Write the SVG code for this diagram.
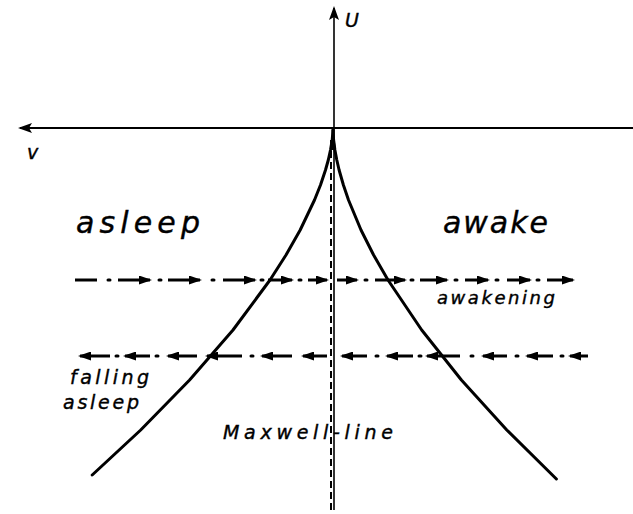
<svg xmlns="http://www.w3.org/2000/svg" width="633" height="514" viewBox="0 0 633 514">
<style>
.t{font-family:"DejaVu Sans","Liberation Sans",sans-serif;font-style:italic;fill:#000;stroke:#000;stroke-width:0.4}
.dd{stroke:#000;stroke-width:3;fill:none}
.dot{stroke:#000;stroke-width:3;stroke-linecap:round}
.cv{stroke:#000;stroke-width:3;fill:none;stroke-linejoin:round;stroke-linecap:round}
</style>
<defs>
<marker id="ah" markerUnits="userSpaceOnUse" markerWidth="13" markerHeight="9" refX="11" refY="4.5" orient="auto"><path d="M0,0 L13,4.5 L0,9 z" fill="#000"/></marker>
<marker id="ax" markerUnits="userSpaceOnUse" markerWidth="14" markerHeight="10" refX="12" refY="5" orient="auto"><path d="M0,0 L14,5 L0,10 L3,5 z" fill="#000"/></marker>
</defs>
<rect width="633" height="514" fill="#fff"/>
<g id="axes">
<line x1="334" y1="510" x2="334" y2="8" stroke="#000" stroke-width="1.6" marker-end="url(#ax)"/>
<line x1="633" y1="128" x2="20" y2="128" stroke="#000" stroke-width="2" marker-end="url(#ax)"/>
<text class="t" x="345" y="27" font-size="19">U</text>
<text class="t" x="27" y="159" font-size="19">v</text>
</g>
<g id="maxwell">
<line x1="331" y1="140" x2="331" y2="510" stroke="#000" stroke-width="2" stroke-dasharray="7,4"/>
<text class="t" x="223" y="439" font-size="19" textLength="170" lengthAdjust="spacing">Maxwell-line</text>
</g>
<g id="cusp">
<polyline class="cv" points="333,130 332.2,140 330.5,150 328.3,160 325.5,170 320.5,185 314.5,200 300.2,230 286,255 270,280 233,330 189.6,380 140.7,430 92.2,475"/>
<polyline class="cv" points="333,130 333.6,140 334.9,150 336.8,160 339.1,170 343.4,185 348.5,200 361,230 373.6,255 388,280 421.7,330 461.4,380 506.8,430 556.4,479"/>
<polygon points="333,128 330,150 336,150" fill="#000"/>
</g>
<g id="asleep">
<text class="t" x="76" y="233" font-size="30" textLength="124" lengthAdjust="spacing">asleep</text>
</g>
<g id="awake">
<text class="t" x="443" y="233" font-size="30" textLength="105" lengthAdjust="spacing">awake</text>
</g>
<g id="connectors">
<g id="awakening-line">
<line class="dd" x1="75" y1="280" x2="97" y2="280"/>
<line class="dot" x1="108" y1="280" x2="110" y2="280"/>
<line class="dd" x1="118" y1="280" x2="150" y2="280" marker-end="url(#ah)"/>
<line class="dot" x1="159" y1="280" x2="161" y2="280"/>
<line class="dd" x1="168" y1="280" x2="200" y2="280" marker-end="url(#ah)"/>
<line class="dot" x1="212" y1="280" x2="214" y2="280"/>
<line class="dd" x1="223" y1="280" x2="255" y2="280" marker-end="url(#ah)"/>
<line class="dot" x1="261" y1="280" x2="263" y2="280"/>
<line class="dd" x1="268" y1="280" x2="292" y2="280" marker-end="url(#ah)"/>
<line class="dot" x1="299" y1="280" x2="301" y2="280"/>
<line class="dd" x1="308" y1="280" x2="327" y2="280" marker-end="url(#ah)"/>
<line class="dd" x1="337" y1="280" x2="357" y2="280" marker-end="url(#ah)"/>
<line class="dot" x1="365" y1="280" x2="367" y2="280"/>
<line class="dd" x1="375" y1="280" x2="405" y2="280" marker-end="url(#ah)"/>
<line class="dot" x1="411" y1="280" x2="413" y2="280"/>
<line class="dd" x1="420" y1="280" x2="447" y2="280" marker-end="url(#ah)"/>
<line class="dot" x1="455" y1="280" x2="457" y2="280"/>
<line class="dd" x1="465" y1="280" x2="488" y2="280" marker-end="url(#ah)"/>
<line class="dot" x1="496" y1="280" x2="498" y2="280"/>
<line class="dd" x1="507" y1="280" x2="530" y2="280" marker-end="url(#ah)"/>
<line class="dot" x1="537" y1="280" x2="539" y2="280"/>
<line class="dd" x1="547" y1="280" x2="573" y2="280" marker-end="url(#ah)"/>
</g>
<g id="falling-line">
<line class="dd" x1="110" y1="356" x2="80" y2="356" marker-end="url(#ah)"/>
<line class="dot" x1="116" y1="356" x2="118" y2="356"/>
<line class="dd" x1="150" y1="356" x2="125" y2="356" marker-end="url(#ah)"/>
<line class="dot" x1="156" y1="356" x2="158" y2="356"/>
<line class="dd" x1="197" y1="356" x2="168" y2="356" marker-end="url(#ah)"/>
<line class="dd" x1="242" y1="356" x2="207" y2="356" marker-end="url(#ah)"/>
<line class="dot" x1="251" y1="356" x2="253" y2="356"/>
<line class="dd" x1="292" y1="356" x2="262" y2="356" marker-end="url(#ah)"/>
<line class="dd" x1="327" y1="356" x2="303" y2="356" marker-end="url(#ah)"/>
<line class="dd" x1="367" y1="356" x2="342" y2="356" marker-end="url(#ah)"/>
<line class="dot" x1="376" y1="356" x2="378" y2="356"/>
<line class="dd" x1="413" y1="356" x2="387" y2="356" marker-end="url(#ah)"/>
<line class="dot" x1="419" y1="356" x2="421" y2="356"/>
<line class="dd" x1="460" y1="356" x2="427" y2="356" marker-end="url(#ah)"/>
<line class="dot" x1="471" y1="356" x2="473" y2="356"/>
<line class="dd" x1="507" y1="356" x2="483" y2="356" marker-end="url(#ah)"/>
<line class="dot" x1="516" y1="356" x2="518" y2="356"/>
<line class="dd" x1="553" y1="356" x2="527" y2="356" marker-end="url(#ah)"/>
<line class="dot" x1="561" y1="356" x2="563" y2="356"/>
<line class="dd" x1="588" y1="356" x2="570" y2="356" marker-end="url(#ah)"/>
</g>
<text class="t" x="437" y="304" font-size="18" textLength="118" lengthAdjust="spacing">awakening</text>
<text class="t" x="70" y="384" font-size="19" textLength="79" lengthAdjust="spacing">falling</text>
<text class="t" x="63" y="409" font-size="19" textLength="76" lengthAdjust="spacing">asleep</text>
</g>
</svg>
